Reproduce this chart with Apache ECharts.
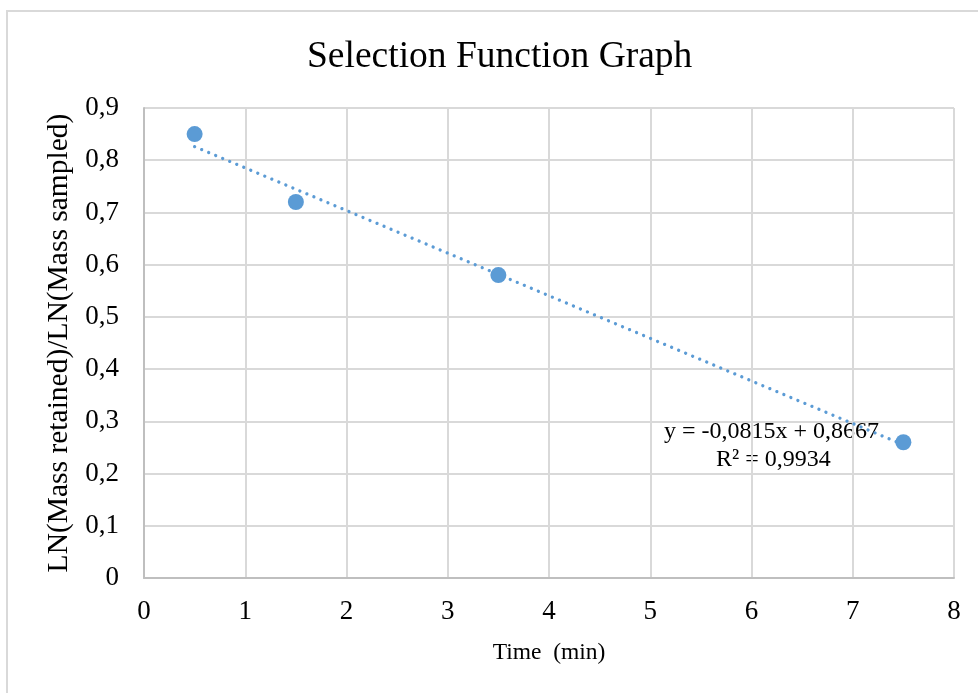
<!DOCTYPE html>
<html><head><meta charset="utf-8">
<script src="https://cdn.jsdelivr.net/npm/echarts@6/dist/echarts.min.js"></script>
<style>html,body{margin:0;padding:0;background:#fff}#c{width:978px;height:693px}</style>
</head><body><div id="c"></div>
<script>
var timeMin = [0.5, 1.5, 3.5, 7.5];
var lnRatio = [0.85, 0.72, 0.58, 0.26];
var trendX = [0.5, 7.5];
var trendY = [0.826, 0.255];
var xTicks = [0,1,2,3,4,5,6,7,8];
var yTicks = ['0','0,1','0,2','0,3','0,4','0,5','0,6','0,7','0,8','0,9'];
var F = 'Liberation Serif, Times New Roman, serif';
var chart = echarts.init(document.getElementById('c'));
chart.setOption({
  animation:false,
  backgroundColor:'#fff',
  title:{text:'Selection Function Graph',left:302,top:33,textStyle:{fontFamily:F,fontWeight:'normal',fontSize:37.5,color:'#000'}},
  graphic:[{type:'rect',shape:{x:7,y:11,width:1000,height:1000},style:{fill:'none',stroke:'#d9d9d9',lineWidth:2},silent:true},
    {type:'text',left:664,top:420,style:{text:'y = -0,0815x + 0,8667',fontFamily:F,fontSize:24,fill:'#000'}},
    {type:'text',left:716,top:448,style:{text:'R² = 0,9934',fontFamily:F,fontSize:24,fill:'#000'}}],
  grid:{left:144,right:24,top:108,bottom:115},
  xAxis:{type:'value',min:0,max:8,interval:1,name:'Time  (min)',nameLocation:'middle',nameGap:63,
    nameTextStyle:{fontFamily:F,fontSize:23.5,color:'#000'},
    axisLine:{show:true,lineStyle:{color:'#bfbfbf',width:2}},axisTick:{show:false},
    axisLabel:{fontFamily:F,fontSize:27,color:'#000',margin:20,formatter:function(v){return String(xTicks[Math.round(v)]);}},
    splitLine:{show:true,lineStyle:{color:'#d9d9d9',width:2}}},
  yAxis:{type:'value',min:0,max:0.9,interval:0.1,name:'LN(Mass retained)/LN(Mass sampled)',nameLocation:'middle',nameGap:56,
    nameTextStyle:{fontFamily:F,fontSize:29.5,color:'#000'},
    axisLine:{show:true,lineStyle:{color:'#bfbfbf',width:2}},axisTick:{show:false},
    axisLabel:{fontFamily:F,fontSize:27,color:'#000',margin:25,formatter:function(v){return yTicks[Math.round(v*10)];}},
    splitLine:{show:true,lineStyle:{color:'#d9d9d9',width:2}}},
  series:[
    {type:'line',data:trendX.map(function(x,i){return [x,trendY[i]];}),showSymbol:false,symbol:'none',
      lineStyle:{color:'#5b9bd5',width:3.3,type:[0.01,7.6],cap:'round'},z:2},
    {type:'scatter',data:timeMin.map(function(x,i){return [x,lnRatio[i]];}),symbolSize:16,
      itemStyle:{color:'#5b9bd5',opacity:1},z:3}
  ]
});
</script></body></html>
